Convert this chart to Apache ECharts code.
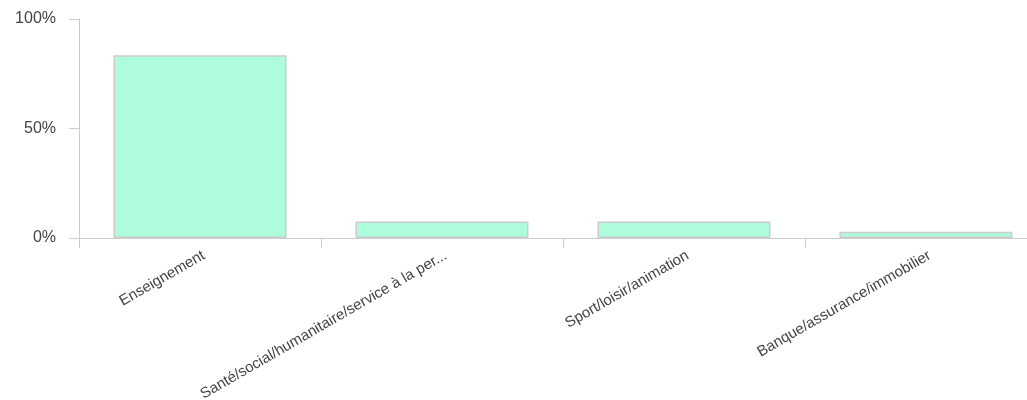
<!DOCTYPE html>
<html>
<head>
<meta charset="utf-8">
<script src="https://cdn.jsdelivr.net/npm/echarts@6/dist/echarts.min.js"></script>
<style>
html,body{margin:0;padding:0;background:#fff;}
#chart{width:1027px;height:400px;}
</style>
</head>
<body>
<div id="chart"></div>
<script>
const categories = [
  "Enseignement",
  "Santé/social/humanitaire/service à la per...",
  "Sport/loisir/animation",
  "Banque/assurance/immobilier"
];
const values = [83.4, 7.5, 7.5, 2.8];
const yTicks = [0, 50, 100];

const chart = echarts.init(document.getElementById('chart'), null, {renderer: 'canvas'});
chart.setOption({
  animation: false,
  grid: {left: 79, top: 19, bottom: 162, width: 968, containLabel: false, outerBoundsMode: 'none'},
  xAxis: {
    type: 'category',
    data: categories,
    boundaryGap: true,
    axisLine: {show: true, lineStyle: {color: '#cccccc', width: 1}},
    axisTick: {show: true, length: 10, alignWithLabel: false, lineStyle: {color: '#cccccc'}},
    axisLabel: {
      rotate: 30, margin: 10, interval: 0, verticalAlign: 'top',
      color: '#444444', fontSize: 15, fontFamily: 'Liberation Sans, Arial, sans-serif'
    },
    splitLine: {show: false}
  },
  yAxis: {
    type: 'value',
    min: yTicks[0], max: yTicks[yTicks.length - 1], interval: 50,
    axisLine: {show: true, lineStyle: {color: '#cccccc', width: 1}},
    axisTick: {show: true, length: 10, lineStyle: {color: '#cccccc'}},
    axisLabel: {
      formatter: '{value}%', margin: 23,
      color: '#444444', fontSize: 16, fontFamily: 'Liberation Sans, Arial, sans-serif'
    },
    splitLine: {show: false}
  },
  series: [{
    type: 'bar',
    data: values,
    barCategoryGap: '28.5%',
    itemStyle: {color: '#adfcdc', borderColor: '#cccccc', borderWidth: 1.5}
  }]
});
</script>
</body>
</html>
